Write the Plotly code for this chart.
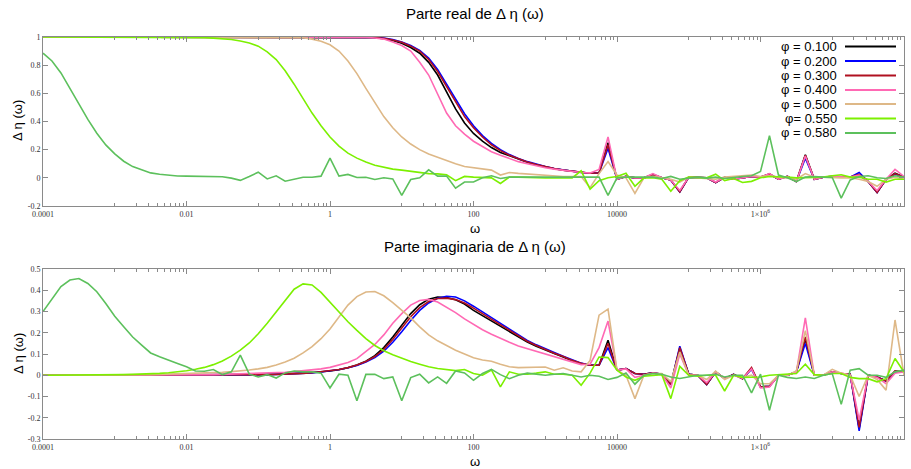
import plotly.graph_objects as go

# ---------------- data ----------------
log10_omega = [
    -4.0, -3.875, -3.75, -3.625, -3.5, -3.375, -3.25, -3.125,
    -3.0, -2.875, -2.75, -2.625, -2.5, -2.375, -2.25, -2.125,
    -2.0, -1.875, -1.75, -1.625, -1.5, -1.375, -1.25, -1.125,
    -1.0, -0.875, -0.75, -0.625, -0.5, -0.375, -0.25, -0.125,
    0.0, 0.125, 0.25, 0.375, 0.5, 0.625, 0.75, 0.875,
    1.0, 1.125, 1.25, 1.375, 1.5, 1.625, 1.75, 1.875,
    2.0, 2.125, 2.25, 2.375, 2.5, 2.625, 2.75, 2.875,
    3.0, 3.125, 3.25, 3.375, 3.5, 3.625, 3.75, 3.875,
    4.0, 4.125, 4.25, 4.375, 4.5, 4.625, 4.75, 4.875,
    5.0, 5.125, 5.25, 5.375, 5.5, 5.625, 5.75, 5.875,
    6.0, 6.125, 6.25, 6.375, 6.5, 6.625, 6.75, 6.875,
    7.0, 7.125, 7.25, 7.375, 7.5, 7.625, 7.75, 7.875,
    8.0]
omega = [10 ** e for e in log10_omega]

phi_labels = ["φ = 0.100", "φ = 0.200", "φ = 0.300", "φ = 0.400",
              "φ = 0.500", "φ= 0.550", "φ = 0.580"]

# Real part
re_010 = [
    1, 1, 1, 1, 1, 1, 1, 1,
    1, 1, 1, 1, 1, 1, 1, 1,
    1, 1, 1, 1, 1, 1, 1, 1,
    1, 1, 1, 1, 1, 1, 1, 1,
    1, 1, 1, 0.999, 0.998, 0.995, 0.988, 0.975,
    0.955, 0.925, 0.885, 0.82, 0.73, 0.61, 0.49, 0.39,
    0.315, 0.26, 0.215, 0.18, 0.155, 0.13, 0.11, 0.093,
    0.078, 0.065, 0.055, 0.046, 0.038, 0.033, 0.035, 0.25,
    -0.01, 0.01, 0.0, 0.0, 0.025, 0.0, -0.015, -0.1,
    0.005, 0.002, 0.0, -0.033, 0.003, -0.01, 0.0, 0.01,
    0.005, 0.028, -0.01, 0.01, -0.026, 0.163, -0.01, 0.005,
    0.01, 0.005, 0.005, 0.02, -0.026, -0.104, -0.01, 0.033,
    0.005]
re_020 = [
    1, 1, 1, 1, 1, 1, 1, 1,
    1, 1, 1, 1, 1, 1, 1, 1,
    1, 1, 1, 1, 1, 1, 1, 1,
    1, 1, 1, 1, 1, 1, 1, 1,
    1, 1, 1, 1, 0.999, 0.997, 0.992, 0.982,
    0.965, 0.94, 0.905, 0.85, 0.77, 0.665, 0.555, 0.455,
    0.37, 0.3, 0.245, 0.2, 0.165, 0.137, 0.115, 0.096,
    0.08, 0.066, 0.055, 0.046, 0.038, 0.033, 0.035, 0.21,
    -0.01, 0.01, 0.0, 0.0, 0.02, 0.0, -0.015, -0.1,
    0.005, 0.002, 0.0, -0.033, 0.003, -0.01, 0.0, 0.01,
    0.005, 0.025, -0.01, 0.01, -0.026, 0.14, -0.01, 0.005,
    0.01, 0.005, 0.005, 0.038, -0.026, -0.104, -0.01, 0.025,
    0.005]
re_030 = [
    1, 1, 1, 1, 1, 1, 1, 1,
    1, 1, 1, 1, 1, 1, 1, 1,
    1, 1, 1, 1, 1, 1, 1, 1,
    1, 1, 1, 1, 1, 1, 1, 1,
    1, 1, 1, 1, 0.999, 0.996, 0.99, 0.979,
    0.962, 0.935, 0.9, 0.84, 0.755, 0.645, 0.535, 0.435,
    0.355, 0.29, 0.235, 0.193, 0.16, 0.134, 0.113, 0.095,
    0.079, 0.066, 0.055, 0.046, 0.038, 0.033, 0.035, 0.235,
    -0.01, 0.01, 0.0, 0.0, 0.022, 0.0, -0.015, -0.1,
    0.005, 0.002, 0.0, -0.033, 0.003, -0.01, 0.0, 0.01,
    0.005, 0.027, -0.01, 0.01, -0.026, 0.16, -0.01, 0.005,
    0.01, 0.005, 0.005, 0.025, -0.026, -0.104, -0.01, 0.03,
    0.005]
re_040 = [
    1, 1, 1, 1, 1, 1, 1, 1,
    1, 1, 1, 1, 1, 1, 1, 1,
    1, 1, 1, 1, 1, 1, 1, 1,
    1, 1, 1, 1, 1, 1, 1, 1,
    1, 0.999, 0.999, 0.998, 0.997, 0.993, 0.985, 0.965,
    0.94, 0.9, 0.82, 0.73, 0.6, 0.46, 0.37, 0.31,
    0.26, 0.22, 0.185, 0.16, 0.135, 0.115, 0.1, 0.085,
    0.072, 0.062, 0.053, 0.045, 0.038, 0.035, 0.06, 0.29,
    -0.01, 0.01, 0.0, 0.0, 0.03, 0.0, -0.015, -0.09,
    0.005, 0.002, 0.0, -0.03, 0.003, -0.01, 0.0, 0.01,
    0.005, 0.03, -0.01, 0.01, -0.026, 0.155, -0.01, 0.005,
    0.01, 0.005, 0.005, 0.02, -0.026, -0.09, -0.01, 0.06,
    0.01]
re_050 = [
    1, 1, 1, 1, 1, 1, 1, 1,
    1, 1, 1, 1, 1, 1, 1, 1,
    1, 1, 1, 1, 1, 1, 1, 1,
    1, 1, 1, 1, 0.998, 0.995, 0.985, 0.97,
    0.945, 0.9, 0.83, 0.74, 0.635, 0.53, 0.435, 0.355,
    0.29, 0.24, 0.2, 0.17, 0.145, 0.12, 0.1, 0.08,
    0.07, 0.062, 0.055, 0.02, 0.038, 0.032, 0.028, 0.022,
    0.016, 0.012, 0.01, 0.01, 0.01, -0.07, 0.03, 0.115,
    0.02, 0.0, -0.11, 0.0, 0.01, 0.0, -0.01, -0.03,
    0.005, 0.0, -0.005, -0.01, 0.005, 0.01, 0.015, 0.02,
    0.01, 0.015, 0.005, 0.0, -0.01, 0.03, 0.005, 0.005,
    0.0, 0.0, 0.0, -0.01, -0.026, -0.06, -0.01, 0.005,
    -0.01]
re_055 = [
    1, 1, 1, 1, 1, 1, 1, 1,
    1, 1, 1, 1, 1, 1, 1, 0.999,
    0.998, 0.997, 0.995, 0.992, 0.988, 0.982, 0.972, 0.958,
    0.935, 0.895, 0.84, 0.76, 0.665, 0.56, 0.46, 0.37,
    0.29, 0.225, 0.175, 0.14, 0.112, 0.09, 0.074, 0.062,
    0.055, 0.045, 0.035, 0.03, 0.028, 0.022, -0.02, 0.01,
    0.005, 0.005, 0.0, -0.04, 0.005, 0.005, 0.002, 0.0,
    0.0, 0.0, 0.0, 0.0, 0.05, -0.08, -0.02, 0.0,
    0.01, 0.033, -0.06, 0.0, 0.0, -0.01, -0.095, -0.02,
    0.005, 0.0, 0.0, 0.026, -0.02, -0.005, -0.033, -0.025,
    0.0, 0.01, 0.01, 0.005, 0.0, 0.0, 0.0, 0.005,
    0.015, 0.022, 0.005, 0.005, -0.01, -0.01, -0.03, -0.01,
    -0.01]
re_058 = [
    0.885, 0.83, 0.745, 0.64, 0.525, 0.415, 0.317, 0.234,
    0.17, 0.118, 0.08, 0.057, 0.035, 0.025, 0.018, 0.013,
    0.012, 0.011, 0.007, 0.004, 0.008, -0.002, -0.018, 0.01,
    0.04, -0.008, 0.014, -0.024, -0.012, 0.004, 0.004, 0.012,
    0.14, 0.012, 0.024, 0.002, 0.004, -0.012, 0.0, -0.008,
    -0.125, -0.012, 0.0, 0.057, 0.012, 0.012, -0.073, -0.03,
    -0.03, 0.0, 0.015, -0.005, 0.005, 0.005, 0.0, 0.005,
    0.0, 0.005, 0.0, 0.0, 0.005, 0.005, 0.005, -0.125,
    0.0, 0.005, 0.005, 0.0, 0.005, -0.005, 0.01, -0.01,
    0.0, 0.005, -0.002, 0.005, -0.005, 0.005, 0.01, 0.015,
    0.045, 0.3, 0.02, 0.0, -0.026, 0.005, 0.01, 0.005,
    0.002, -0.144, -0.015, 0.01, 0.015, 0.0, -0.005, 0.015,
    0.005]

# Imaginary part
im_010 = [
    0, 0, 0, 0, 0, 0, 0, 0,
    0, 0, 0, 0, 0, 0, 0, 0.001,
    0.001, 0.001, 0.001, 0.001, 0.001, 0.002, 0.002, 0.003,
    0.003, 0.004, 0.005, 0.006, 0.008, 0.01, 0.013, 0.016,
    0.02, 0.026, 0.035, 0.048, 0.066, 0.092, 0.13, 0.18,
    0.237, 0.29, 0.332, 0.358, 0.368, 0.366, 0.355, 0.335,
    0.305, 0.28, 0.255, 0.228, 0.203, 0.178, 0.156, 0.136,
    0.118, 0.102, 0.086, 0.068, 0.055, 0.047, 0.047, 0.165,
    0.024, 0.031, 0.008, 0.005, 0.011, 0.005, -0.042, 0.126,
    0.005, 0.0, -0.044, 0.016, -0.016, 0.004, -0.016, 0.031,
    -0.055, -0.052, 0.0, 0.0, 0.016, 0.17, 0.0, 0.0,
    0.016, 0.008, 0.005, -0.25, 0.0, -0.008, -0.027, 0.02,
    0.016]
im_020 = [
    0, 0, 0, 0, 0, 0, 0, 0,
    0, 0, 0, 0, 0, 0, 0, 0.001,
    0.001, 0.001, 0.001, 0.001, 0.001, 0.001, 0.002, 0.002,
    0.002, 0.003, 0.004, 0.005, 0.006, 0.008, 0.011, 0.015,
    0.02, 0.027, 0.035, 0.046, 0.062, 0.083, 0.113, 0.155,
    0.205, 0.258, 0.305, 0.34, 0.362, 0.372, 0.368, 0.35,
    0.325, 0.298, 0.27, 0.242, 0.214, 0.188, 0.164, 0.143,
    0.124, 0.107, 0.09, 0.072, 0.057, 0.047, 0.047, 0.13,
    0.024, 0.031, 0.008, 0.005, 0.011, 0.005, -0.045, 0.137,
    0.005, 0.0, -0.044, 0.016, -0.016, 0.004, -0.016, 0.028,
    -0.055, -0.052, 0.0, 0.0, 0.016, 0.15, 0.0, 0.0,
    0.016, 0.008, 0.005, -0.262, 0.0, -0.008, -0.027, 0.015,
    0.016]
im_030 = [
    0, 0, 0, 0, 0, 0, 0, 0,
    0, 0, 0, 0, 0, 0, 0, 0.001,
    0.001, 0.001, 0.001, 0.001, 0.001, 0.002, 0.002, 0.003,
    0.003, 0.003, 0.004, 0.005, 0.007, 0.009, 0.012, 0.016,
    0.02, 0.027, 0.036, 0.048, 0.065, 0.088, 0.122, 0.168,
    0.222, 0.275, 0.318, 0.347, 0.361, 0.363, 0.356, 0.34,
    0.316, 0.29, 0.263, 0.235, 0.208, 0.183, 0.16, 0.14,
    0.121, 0.104, 0.088, 0.07, 0.056, 0.047, 0.047, 0.15,
    0.024, 0.031, 0.008, 0.005, 0.011, 0.005, -0.043, 0.13,
    0.005, 0.0, -0.044, 0.016, -0.016, 0.004, -0.016, 0.036,
    -0.055, -0.052, 0.0, 0.0, 0.016, 0.18, 0.0, 0.0,
    0.016, 0.008, 0.005, -0.245, 0.0, -0.008, -0.027, 0.02,
    0.016]
im_040 = [
    0, 0, 0, 0, 0, 0, 0, 0,
    0, 0, 0, 0.001, 0.001, 0.001, 0.001, 0.002,
    0.002, 0.002, 0.003, 0.003, 0.004, 0.005, 0.006, 0.007,
    0.008, 0.01, 0.012, 0.014, 0.017, 0.021, 0.025, 0.03,
    0.037, 0.047, 0.06, 0.078, 0.11, 0.145, 0.19, 0.245,
    0.29, 0.33, 0.352, 0.357, 0.345, 0.32, 0.295, 0.265,
    0.238, 0.214, 0.193, 0.173, 0.155, 0.138, 0.125, 0.112,
    0.1, 0.088, 0.076, 0.063, 0.05, 0.052, 0.13, 0.255,
    0.024, 0.03, -0.01, 0.0, 0.01, 0.005, -0.06, 0.1,
    0.0, 0.0, -0.035, 0.015, -0.015, 0.0, -0.015, 0.03,
    -0.06, -0.055, 0.0, 0.0, 0.015, 0.27, 0.0, 0.0,
    0.016, 0.01, 0.0, -0.21, 0.0, -0.01, -0.04, 0.01,
    0.016]
im_050 = [
    0, 0, 0, 0, 0.001, 0.001, 0.001, 0.001,
    0.002, 0.002, 0.002, 0.003, 0.003, 0.004, 0.005, 0.006,
    0.007, 0.008, 0.01, 0.012, 0.014, 0.017, 0.02, 0.025,
    0.03, 0.037, 0.048, 0.062, 0.08, 0.105, 0.135, 0.172,
    0.218, 0.275, 0.33, 0.37, 0.392, 0.394, 0.374, 0.342,
    0.305, 0.27, 0.228, 0.19, 0.162, 0.14, 0.118, 0.1,
    0.082, 0.072, 0.066, 0.052, 0.04, 0.036, 0.036, 0.038,
    0.039, 0.024, 0.035, 0.02, 0.016, 0.07, 0.283, 0.311,
    0.024, 0.0, -0.11, 0.0, 0.008, 0.008, -0.03, 0.11,
    0.0, 0.0, -0.02, 0.02, -0.02, 0.0, -0.01, 0.0,
    -0.04, -0.04, 0.0, 0.0, 0.02, 0.21, 0.0, 0.0,
    0.028, 0.01, 0.0, -0.1, 0.0, -0.02, -0.07, 0.26,
    0.0]
im_055 = [
    0, 0, 0, 0, 0, 0.001, 0.001, 0.002,
    0.002, 0.003, 0.004, 0.005, 0.007, 0.009, 0.012, 0.016,
    0.021, 0.028, 0.037, 0.05, 0.067, 0.09, 0.118, 0.152,
    0.195, 0.245, 0.3, 0.355, 0.405, 0.43, 0.425, 0.39,
    0.344, 0.295, 0.252, 0.211, 0.172, 0.14, 0.115, 0.096,
    0.08, 0.065, 0.052, 0.04, 0.032, 0.027, 0.022, 0.027,
    0.008, 0.0, 0.025, -0.055, 0.016, 0.005, 0.005, 0.01,
    0.016, 0.005, 0.005, 0.0, -0.047, 0.01, 0.086, 0.083,
    0.024, -0.008, -0.024, -0.005, 0.0, 0.003, -0.11, 0.042,
    0.0, -0.005, 0.0, 0.0, -0.074, 0.0, -0.01, -0.008,
    -0.008, 0.0, 0.003, 0.005, 0.008, 0.052, 0.003, 0.0,
    0.008, 0.008, -0.01, -0.016, -0.016, -0.031, -0.016, 0.079,
    0.015]
im_058 = [
    0.3, 0.36, 0.417, 0.448, 0.455, 0.432, 0.393, 0.338,
    0.278, 0.228, 0.18, 0.142, 0.105, 0.087, 0.07, 0.055,
    0.04, 0.02, 0.019, 0.027, 0.003, 0.016, 0.095, 0.005,
    -0.008, 0.003, -0.013, 0.011, 0.02, 0.016, 0.016, 0.01,
    -0.06, 0.005, 0.0, -0.12, 0.004, 0.004, -0.016, -0.008,
    -0.12, -0.011, 0.005, -0.036, -0.008, -0.038, 0.02, 0.011,
    -0.024, 0.008, 0.028, 0.003, -0.016, 0.0, 0.01, 0.005,
    0.0, 0.005, 0.008, 0.0, -0.008, 0.0, -0.005, -0.02,
    -0.01, 0.011, -0.042, 0.0, 0.008, 0.005, -0.008, -0.015,
    -0.008, 0.0, 0.0, 0.005, -0.008, 0.0, 0.0, -0.083,
    0.005, -0.165, 0.0, -0.01, -0.015, -0.008, -0.015, 0.0,
    0.008, -0.137, 0.024, 0.031, 0.0, 0.0, -0.01, 0.016,
    0.024]

real_series = [re_010, re_020, re_030, re_040, re_050, re_055, re_058]
imag_series = [im_010, im_020, im_030, im_040, im_050, im_055, im_058]

x_tickvals = [1e-4, 1e-2, 1, 1e2, 1e4, 1e6, 1e8]
x_ticktext = ["0.0001", "0.01", "1", "100", "10000",
              "1×10<sup>6</sup>", "1×10<sup>8</sup>"]
x_minor_decades = [1e-3, 1e-1, 1e1, 1e3, 1e5, 1e7]
x_minor_mult = [1, 2, 3, 4, 5, 6, 7, 8, 9]
y1_tickvals = [-0.2, 0, 0.2, 0.4, 0.6, 0.8, 1]
y1_ticktext = ["-0.2", "0", "0.2", "0.4", "0.6", "0.8", "1"]
y2_tickvals = [-0.3, -0.2, -0.1, 0, 0.1, 0.2, 0.3, 0.4, 0.5]
y2_ticktext = ["-0.3", "-0.2", "-0.1", "0", "0.1", "0.2", "0.3", "0.4", "0.5"]

for s in real_series + imag_series:
    assert len(s) == len(omega), len(s)

# ---------------- style ----------------
colors = ["#000000", "#0000ff", "#b01020", "#ff69b4", "#deb887", "#7cf000", "#5cc05c"]
W, H = 911, 469
px = lambda v: v / W
py = lambda v: 1 - v / H

fig = go.Figure()
for i in range(len(phi_labels)):
    fig.add_trace(go.Scatter(x=omega, y=real_series[i], mode="lines", name=phi_labels[i],
                             line=dict(color=colors[i], width=1.6), xaxis="x", yaxis="y",
                             showlegend=False))
for i in range(len(phi_labels)):
    fig.add_trace(go.Scatter(x=omega, y=imag_series[i], mode="lines", name=phi_labels[i],
                             line=dict(color=colors[i], width=1.6), xaxis="x2", yaxis="y2",
                             showlegend=False))

minor_vals = [m * d for d in x_minor_decades for m in x_minor_mult]
tickfont = dict(family="Liberation Serif", size=8, color="#333333")
axis_common = dict(showline=True, linecolor="#8a8a8a", linewidth=1, mirror="ticks",
                   ticks="inside", ticklen=5, tickcolor="#8a8a8a", tickwidth=1,
                   showgrid=False, zeroline=False, automargin=False, tickfont=tickfont)
xaxis_common = dict(type="log", range=[-4, 8], tickmode="array", tickvals=x_tickvals,
                    ticktext=x_ticktext, domain=[px(43), px(904)],
                    minor=dict(tickmode="array", tickvals=minor_vals, ticks="inside",
                               ticklen=3, tickcolor="#8a8a8a", showgrid=False),
                    **axis_common)

fig.update_layout(
    width=W, height=H, margin=dict(l=0, r=0, t=0, b=0),
    paper_bgcolor="white", plot_bgcolor="white", showlegend=False,
    xaxis=dict(anchor="y", **xaxis_common),
    xaxis2=dict(anchor="y2", **xaxis_common),
    yaxis=dict(anchor="x", range=[-0.2, 1], tickmode="array", tickvals=y1_tickvals,
               ticktext=y1_ticktext, domain=[py(206), py(37)], **axis_common),
    yaxis2=dict(anchor="x2", range=[-0.3, 0.5], tickmode="array", tickvals=y2_tickvals,
                ticktext=y2_ticktext, domain=[py(439), py(269)], **axis_common),
)

title_font = dict(family="Liberation Sans", size=15, color="#000000")
label_font = dict(family="Liberation Sans", size=13, color="#000000")
ann = [
    dict(text="Parte real de Δ η (ω)", x=px(475), y=py(14), font=title_font),
    dict(text="Parte imaginaria de Δ η (ω)", x=px(475), y=py(246), font=title_font),
    dict(text="ω", x=px(475), y=py(228), font=label_font),
    dict(text="ω", x=px(475), y=py(461), font=label_font),
    dict(text="Δ η (ω)", x=px(18), y=py(121), font=label_font, textangle=-90),
    dict(text="Δ η (ω)", x=px(18), y=py(354), font=label_font, textangle=-90),
]
for a in ann:
    fig.add_annotation(xref="paper", yref="paper", showarrow=False,
                       xanchor="center", yanchor="middle", **a)

legend_rows = [46.5, 61, 75.5, 90, 104, 118.5, 133]
for i, lab in enumerate(phi_labels):
    fig.add_annotation(xref="paper", yref="paper", showarrow=False, text=lab,
                       x=px(839), y=py(legend_rows[i]), xanchor="right", yanchor="middle",
                       font=dict(family="Liberation Sans", size=13, color="#000000"))
    fig.add_shape(type="line", xref="paper", yref="paper",
                  x0=px(845), x1=px(896), y0=py(legend_rows[i]), y1=py(legend_rows[i]),
                  line=dict(color=colors[i], width=1.8))

fig.write_html("out.html")
